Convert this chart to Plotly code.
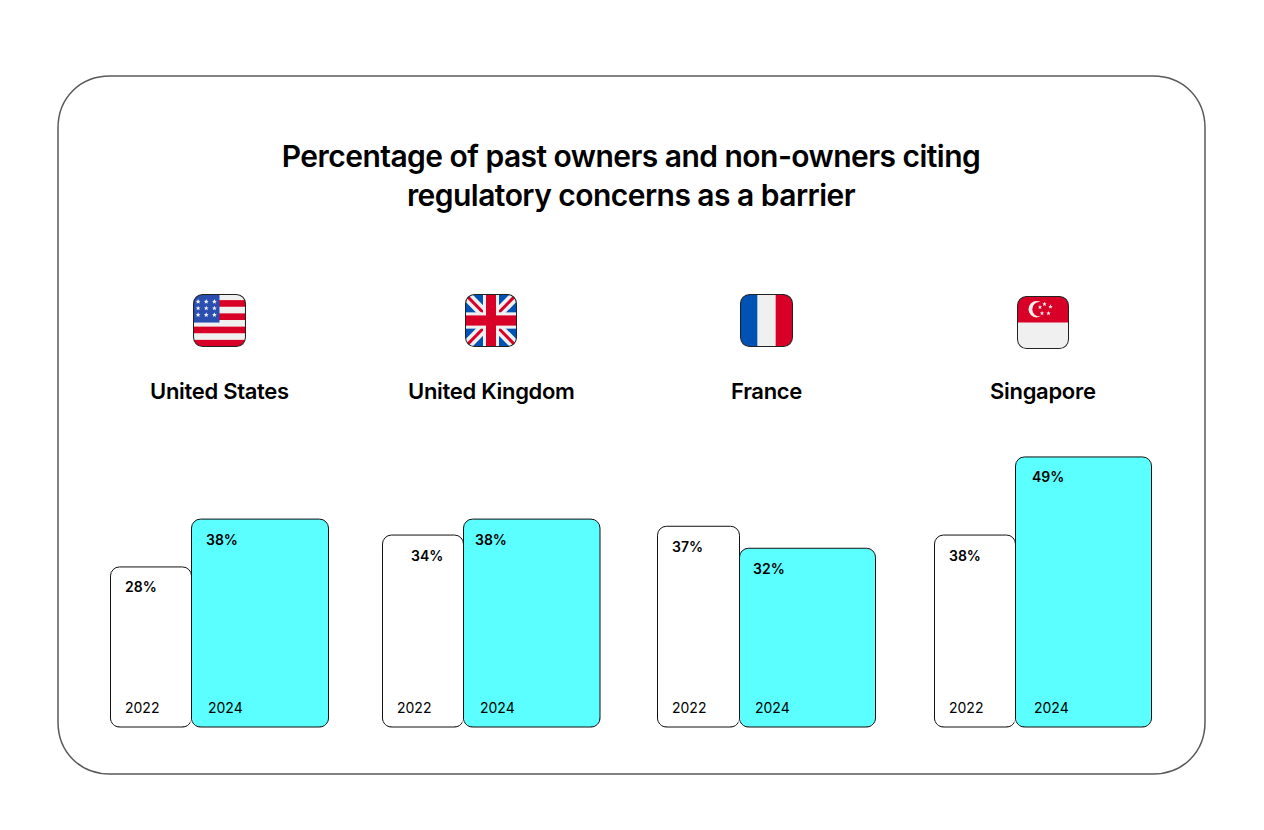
import base64
import plotly.graph_objects as go

# ---- data ----
countries = ["United States", "United Kingdom", "France", "Singapore"]
years = ["2022", "2024"]
labels_2022 = [28, 34, 37, 38]   # printed percentages
labels_2024 = [38, 38, 32, 49]
# bar lengths as drawn in the picture (the source art is not exactly to scale with its labels)
drawn_2022 = [29.1, 34.9, 36.5, 34.9]
drawn_2024 = [37.8, 37.8, 32.5, 49.1]
title_lines = ["Percentage of past owners and non-owners citing",
               "regulatory concerns as a barrier"]

# ---- layout constants (screen pixels; page body has an 8px margin) ----
M = 8
PW, PH = 1248, 814
BASE_PX = 727
PX_PER_UNIT = 5.5
RADIUS = 9
GROUP_LEFT = [110.5, 382.5, 657.5, 934.5]
W_A, W_B = [81, 81, 82, 81], [137, 136.5, 136, 136]
NAME_X = [219.5, 491, 766.5, 1043]
VAL_A_X = [123, 409, 670, 947]
VAL_B_X = [204, 473, 751, 1030]
YR_A_X = [123, 395, 670, 947]
YR_B_X = [206, 478, 753, 1032]
FLAG_X = [193, 465, 740, 1017]
FLAG_Y = [294, 294, 294, 296]
FLAG_W = [53, 52, 53, 52]
INK = "#000000"
FONT = "Inter"
LINE = "#111111"


def fx(px):
    return (px - M) / PW


def fy(py):
    return 1 - (py - M) / PH


def track(text, px):
    return f'<span style="letter-spacing:{px}px">{text}</span>'


def svg_uri(body):
    svg = ('<svg xmlns="http://www.w3.org/2000/svg" width="208" height="208" viewBox="0 0 52 52">'
           '<defs><clipPath id="c"><rect x="0.5" y="0.5" width="51" height="51" rx="9"/></clipPath></defs>'
           f'<g clip-path="url(#c)">{body}</g>'
           '<rect x="0.5" y="0.5" width="51" height="51" rx="9" fill="none" stroke="#222" stroke-width="1"/></svg>')
    return "data:image/svg+xml;base64," + base64.b64encode(svg.encode()).decode()


RED, BLUE, PALE = "#d80027", "#2a4fb0", "#f0f0f0"
star_pts = "0,-2 0.55,-0.7 1.9,-0.6 0.85,0.25 1.2,1.6 0,0.85 -1.2,1.6 -0.85,0.25 -1.9,-0.6 -0.55,-0.7"


def star(x, y, k=1.0, fill="#f0f0f0"):
    return f'<polygon points="{star_pts}" transform="translate({x},{y}) scale({k})" fill="{fill}"/>'


us = f'<rect width="52" height="52" fill="{PALE}"/>'
for y in (6, 19, 32, 45):
    us += f'<rect x="0" y="{y}" width="52" height="6.5" fill="{RED}"/>'
us += f'<rect width="26" height="28" fill="{BLUE}"/>'
for yy in (7.5, 14, 20.5):
    for xx in (5, 13, 21):
        us += star(xx, yy, 1.25)

uk = (f'<rect width="52" height="52" fill="#0052b4"/>'
      f'<path d="M0 0L52 52M52 0L0 52" stroke="{PALE}" stroke-width="10"/>'
      f'<path d="M0 0L26 26M52 0L26 26M0 52L26 26M52 52L26 26" stroke="{RED}" stroke-width="3"/>'
      f'<rect x="18" width="16" height="52" fill="{PALE}"/><rect y="18" width="52" height="16" fill="{PALE}"/>'
      f'<rect x="21" width="10" height="52" fill="{RED}"/><rect y="21" width="52" height="10" fill="{RED}"/>')

fr = (f'<rect width="52" height="52" fill="{PALE}"/>'
      f'<rect width="17" height="52" fill="#0052b4"/><rect x="35" width="17" height="52" fill="{RED}"/>')

sg = (f'<rect width="52" height="52" fill="{PALE}"/><rect width="52" height="26" fill="{RED}"/>'
      f'<circle cx="19.5" cy="13" r="8" fill="{PALE}"/><circle cx="22.5" cy="13" r="7.2" fill="{RED}"/>')
for xx, yy in ((26, 8), (32, 10.5), (30, 17), (23.5, 17), (21.5, 11)):
    sg += star(xx + 1.5, yy, 1.15)

flags = [us, uk, fr, sg]

fig = go.Figure()
mask_shapes = []


def corner_shapes(x_corner, sx):
    """Round one bottom corner of a bar: sx=+1 for a left corner, -1 for a right one."""
    r = RADIUS
    u = 1 / PX_PER_UNIT
    x1 = x_corner + sx * r
    y1 = r * u
    ctl_x, ctl_y = x_corner + sx * r * 0.45, r * 0.45 * u
    pad_x, pad_y = x_corner - sx * 1.0, -1.0 * u
    mask_shapes.append(dict(
        type="path", xref="x", yref="y", layer="above", fillcolor="white", line=dict(width=0),
        path=f"M {pad_x} {y1} L {x_corner} {y1} C {x_corner} {ctl_y} {ctl_x} 0 {x1} 0 L {x1} {pad_y} L {pad_x} {pad_y} Z"))
    mask_shapes.append(dict(
        type="path", xref="x", yref="y", layer="above", line=dict(color=LINE, width=1),
        path=f"M {x_corner} {y1} C {x_corner} {ctl_y} {ctl_x} 0 {x1} 0"))


for i in range(4):
    xa0 = GROUP_LEFT[i]
    xb0 = xa0 + W_A[i]
    xb1 = xb0 + W_B[i]
    fig.add_bar(x=[xa0 + W_A[i] / 2], y=[drawn_2022[i]], width=[W_A[i]],
                marker=dict(color="white", line=dict(color=LINE, width=1)),
                name=f"{countries[i]} {years[0]}", hoverinfo="skip")
    fig.add_bar(x=[xb0 + W_B[i] / 2], y=[drawn_2024[i]], width=[W_B[i]],
                marker=dict(color="#5cffff", line=dict(color=LINE, width=1)),
                name=f"{countries[i]} {years[1]}", hoverinfo="skip")
    corner_shapes(xa0, 1)
    corner_shapes(xb0, -1)
    corner_shapes(xb0, 1)
    corner_shapes(xb1, -1)


def note(x, y, text, size, weight, yshift=0, anchor="left", yref="y"):
    fig.add_annotation(x=x, y=y, xref="x", yref=yref, text=text, showarrow=False, xanchor=anchor,
                       yanchor="middle", yshift=yshift,
                       font=dict(family=FONT, size=size, color=INK, weight=weight))


for i in range(4):
    note(VAL_A_X[i], drawn_2022[i], f"{labels_2022[i]}%", 14, 600, yshift=-20)
    note(VAL_B_X[i], drawn_2024[i], f"{labels_2024[i]}%", 14, 600, yshift=-20)
    note(YR_A_X[i], 0, years[0], 14, 400, yshift=19.5)
    note(YR_B_X[i], 0, years[1], 14, 400, yshift=19.5)
    note(NAME_X[i], fy(391), track(countries[i], -0.3), 22, 600, anchor="center", yref="paper")

card = ("M {l} {t1} C {l} {tc} {lc} {t} {l1} {t} L {r1} {t} C {rc} {t} {r} {tc} {r} {t1} "
        "L {r} {b1} C {r} {bc} {rc} {b} {r1} {b} L {l1} {b} C {lc} {b} {l} {bc} {l} {b1} Z").format(
    l=fx(58), r=fx(1205), t=fy(76), b=fy(774),
    l1=fx(110), r1=fx(1153), lc=fx(80), rc=fx(1183),
    t1=fy(128), tc=fy(98), b1=fy(722), bc=fy(752))

fig.update_layout(
    width=PW, height=PH, autosize=False,
    margin=dict(l=0, r=0, t=0, b=0, autoexpand=False),
    paper_bgcolor="white", plot_bgcolor="rgba(0,0,0,0)",
    showlegend=False, barmode="overlay", barcornerradius=RADIUS,
    title=dict(text="<br>".join(track(t, -0.54) for t in title_lines), x=fx(631), xanchor="center",
               y=fy(166.5), yanchor="middle", automargin=False,
               font=dict(family=FONT, size=30, color=INK, weight=600)),
    xaxis=dict(range=[M, M + PW], visible=False, fixedrange=True),
    yaxis=dict(range=[(BASE_PX - (M + PH)) / PX_PER_UNIT, (BASE_PX - M) / PX_PER_UNIT],
               visible=False, fixedrange=True),
    shapes=[dict(type="path", xref="paper", yref="paper", layer="below", path=card,
                 line=dict(color="#5a5a5a", width=1.5), fillcolor="white")] + mask_shapes,
    images=[dict(source=svg_uri(flags[i]), xref="x", yref="paper", x=FLAG_X[i], y=fy(FLAG_Y[i]),
                 sizex=FLAG_W[i], sizey=53 / PH, xanchor="left", yanchor="top", sizing="stretch", layer="above")
            for i in range(4)],
)

fig.write_html("out.html", config=dict(displayModeBar=False))
